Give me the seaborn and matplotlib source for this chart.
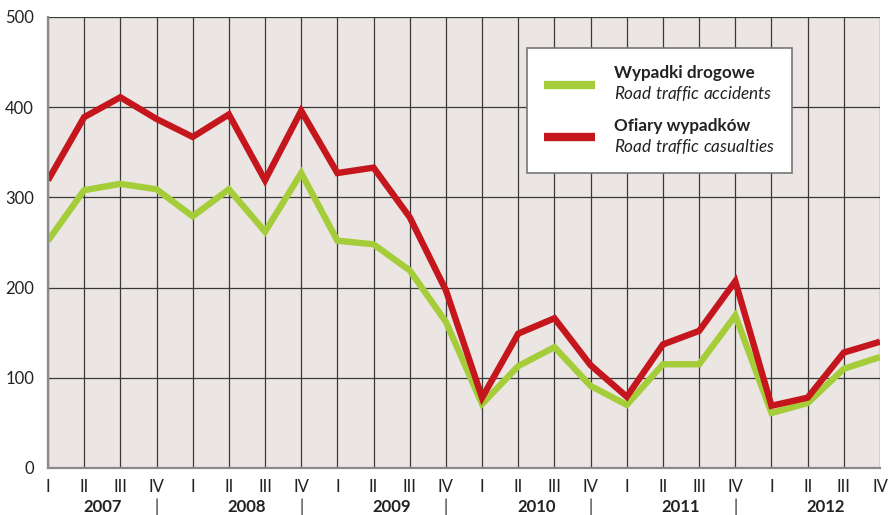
import matplotlib
matplotlib.use('Agg')
import matplotlib.pyplot as plt
import seaborn as sns
import pandas as pd
import numpy as np

# Data (quarterly, 2007-2012)
years = ['2007', '2008', '2009', '2010', '2011', '2012']
quarters = ['I', 'II', 'III', 'IV']
accidents = [252, 308, 315, 309, 279, 309, 262, 327,
             252, 248, 219, 162, 71, 113, 134, 91,
             70, 115, 115, 169, 61, 72, 110, 123]
casualties = [319, 389, 411, 387, 367, 392, 319, 396,
              327, 333, 278, 197, 78, 149, 166, 114,
              79, 137, 152, 207, 69, 78, 128, 140]
y_ticks = [0, 100, 200, 300, 400, 500]

GREEN = '#a5cd39'
RED = '#c4161c'
BG = '#ebe6e3'
GRID = '#3a3a3a'

sns.set_style('white')
plt.rcParams['font.family'] = ['Lato', 'DejaVu Sans']
plt.rcParams['mathtext.fontset'] = 'custom'
plt.rcParams['mathtext.it'] = 'Lato:italic'
plt.rcParams['mathtext.rm'] = 'Lato'

idx = np.arange(len(accidents))
df = pd.DataFrame({'q': idx, 'accidents': accidents, 'casualties': casualties})

fig = plt.figure(figsize=(8.9, 5.15), dpi=100)
ax = fig.add_axes([48 / 890, 1 - 468 / 515, (880 - 48) / 890, (468 - 17) / 515])
ax.set_facecolor(BG)

sns.lineplot(data=df, x='q', y='accidents', color=GREEN, linewidth=4.6, ax=ax,
             label='Wypadki drogowe\n$\\it{Road\\ traffic\\ accidents}$')
sns.lineplot(data=df, x='q', y='casualties', color=RED, linewidth=4.6, ax=ax,
             label='Ofiary wypadków\n$\\it{Road\\ traffic\\ casualties}$')
for ln in ax.get_lines():
    ln.set_solid_joinstyle('miter')
    ln.set_solid_capstyle('butt')

ax.set_xlim(0, len(accidents) - 1)
ax.set_ylim(0, 500)
ax.set_yticks(y_ticks)
ax.set_yticklabels([str(v) for v in y_ticks], fontsize=12, color='#222222')
ax.set_xticks(idx)
ax.set_xticklabels([])
ax.tick_params(axis='both', length=0)
ax.tick_params(axis='y', pad=10)
ax.set_xlabel('')
ax.set_ylabel('')

ax.grid(True, color=GRID, linewidth=0.9)
ax.set_axisbelow(True)
for side in ['top', 'right']:
    ax.spines[side].set_visible(False)
for side in ['left', 'bottom']:
    ax.spines[side].set_color('#8a8a8a')
    ax.spines[side].set_linewidth(1.6)

# quarter labels
trans = ax.get_xaxis_transform()
for i in idx:
    ax.text(i, -0.043, quarters[i % 4], transform=trans, ha='center', va='center',
            fontsize=12, color='#222222')
# year labels and separators
for k, yr in enumerate(years):
    ax.text(4 * k + 1.5, -0.086, yr, transform=trans, ha='center', va='center',
            fontsize=12, fontweight='bold', color='#222222')
    if k < len(years) - 1:
        ax.text(4 * k + 3, -0.086, '|', transform=trans, ha='center', va='center',
                fontsize=12, color='#222222')

leg = ax.legend(loc='upper left', bbox_to_anchor=((527 - 48) / 832, 1 - (48 - 17) / 451),
                frameon=True, fancybox=False, framealpha=1, edgecolor='#777777',
                handlelength=3.0, handletextpad=1.1, borderpad=1.0, labelspacing=0.85,
                borderaxespad=0, prop={'size': 12.3, 'weight': 'bold'})
leg.get_frame().set_linewidth(1.2)
for line in leg.get_lines():
    line.set_linewidth(6)
for t in leg.get_texts():
    t.set_color('#222222')

fig.savefig('out.png', dpi=100)
